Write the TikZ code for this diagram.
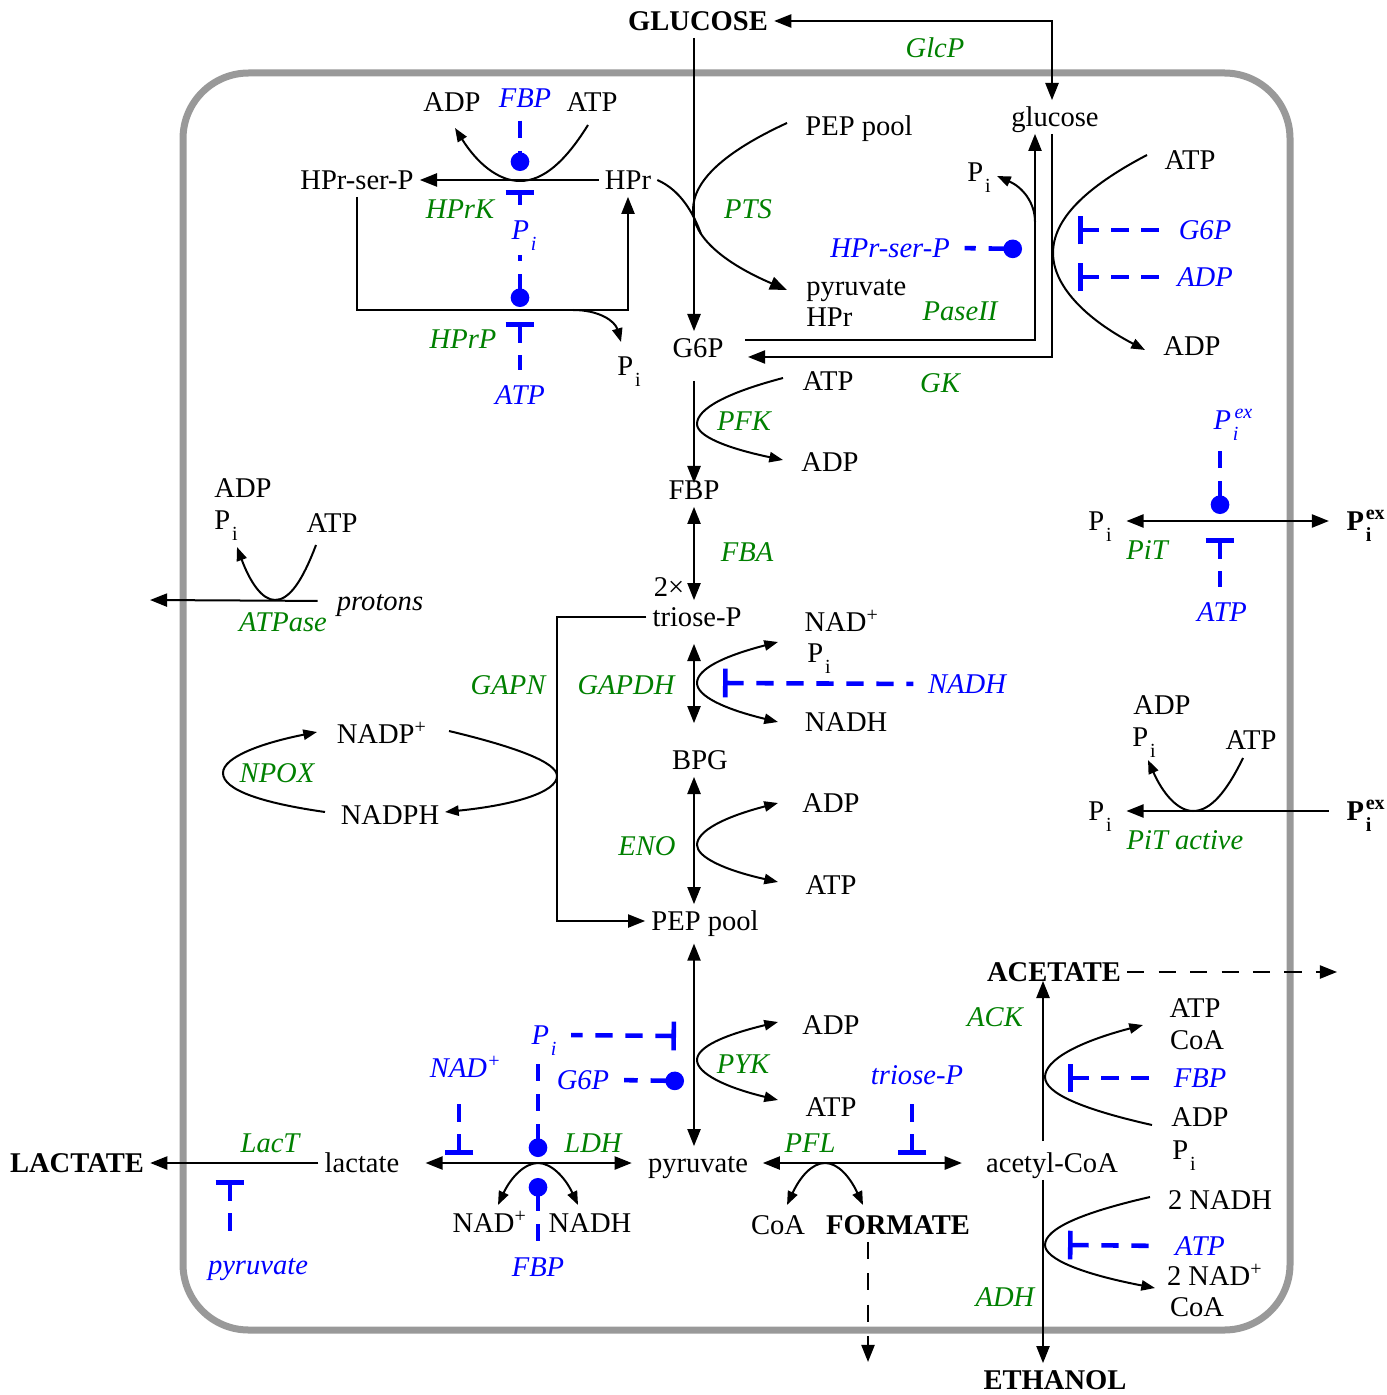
\documentclass[tikz,border=0pt]{standalone}
\usepackage{fontspec}
\setmainfont{Liberation Serif}
\usetikzlibrary{arrows.meta,calc}
\definecolor{egreen}{RGB}{0,128,0}
\definecolor{rblue}{RGB}{0,0,255}
\definecolor{cellgray}{RGB}{153,153,153}
\newcommand{\sbi}[1]{\kern0.6pt\raisebox{-4pt}{\fontsize{7}{8}\selectfont #1}}
\newcommand{\Psub}{P\sbi{i}}
\newcommand{\Pexb}{\textbf{P}\rlap{\kern0.6pt\raisebox{3.8pt}{\fontsize{7}{8}\selectfont\bfseries ex}}\sbi{\bfseries i}}
\newcommand{\Pexi}{P\rlap{\kern1.2pt\raisebox{3.8pt}{\fontsize{7}{8}\selectfont ex}}\sbi{i}}
\begin{document}
\begin{tikzpicture}[x=0.35pt,y=-0.35pt,
  every node/.style={inner sep=2pt, text height=0.7em, text depth=0.04em},
  ext/.style={font=\bfseries},
  enz/.style={text=egreen, font=\itshape},
  reg/.style={text=rblue, font=\itshape},
  ln/.style={line width=0.7pt},
  arr/.style={ln, -{Triangle[length=6pt,width=4.6pt]}},
  darr/.style={ln, {Triangle[length=6pt,width=4.6pt]}-{Triangle[length=6pt,width=4.6pt]}},
  carr/.style={ln, -{Triangle[length=4.8pt,width=3.6pt]}},
  cdarr/.style={ln, {Triangle[length=4.8pt,width=3.6pt]}-{Triangle[length=4.8pt,width=3.6pt]}},
  inh/.style={color=rblue, line width=1.6pt, dash pattern=on 6pt off 4.5pt, shorten >=3pt, {Bar[width=10pt]}-},
  actv/.style={color=rblue, line width=1.6pt, dash pattern=on 6pt off 4.5pt, shorten >=3pt, {Circle[length=6.5pt]}-},
  actr/.style={color=rblue, line width=1.6pt, dash pattern=on 6pt off 4.5pt, shorten <=2pt, -{Circle[length=6.5pt]}},
  dsh/.style={ln, dash pattern=on 6pt off 5pt, -{Triangle[length=6pt,width=4.6pt]}}
]
\fill[white] (0,0) rectangle (1387,1395);
\useasboundingbox (0,0) rectangle (1387,1395);
% cell
\draw[cellgray, line width=2.45pt, rounded corners=23pt] (183,73) rectangle (1290,1330);

% ---------- nodes ----------
\node[ext] (GLUCOSE) at (698,21) {GLUCOSE};
\node[enz] (GlcP) at (935,48) {GlcP};
\node (glucose) at (1055,117) {glucose};
\node (PEPt) at (859,126) {PEP pool};
\node (HPr) at (628,180) {HPr};
\node (HPrSP) at (357,180) {HPr-ser-P};
\node (ADPk) at (452,102) {ADP};
\node[reg] (FBPk) at (525,98) {FBP};
\node (ATPk) at (592,102) {ATP};
\node[enz] (HPrK) at (460,209) {HPrK};
\node[reg] (PiK) at (524,230) {\Psub};
\node[enz] (HPrP) at (463,339) {HPrP};
\node[reg] (ATPp) at (520,395) {ATP};
\node (PiP) at (629,366) {\Psub};
\node[enz] (PTS) at (748,209) {PTS};
\node (PiG) at (979,172) {\Psub};
\node[reg] (HPrSPb) at (890,248) {HPr-ser-P};
\node[anchor=west] (pyrt) at (800,286) {pyruvate};
\node[anchor=west] (HPr2) at (800,317) {HPr};
\node[enz] (PaseII) at (960,311) {PaseII};
\node (G6P) at (698,348) {G6P};
\node[enz] (GK) at (940,383) {GK};
\node (ATPg) at (1190,160) {ATP};
\node[reg] (G6Pg) at (1205,230) {G6P};
\node[reg] (ADPg) at (1205,277) {ADP};
\node (ADPg2) at (1192,346) {ADP};
\node (ATPf) at (828,381) {ATP};
\node[enz] (PFK) at (744,421) {PFK};
\node (ADPf) at (830,462) {ADP};
\node (FBP) at (694,490) {FBP};
\node[enz] (FBA) at (747,552) {FBA};
\node (two) at (669,587) {2×};
\node (triose) at (697,617) {triose-P};
% ATPase
\node (ADPa1) at (243,488) {ADP};
\node (PiA) at (226,520) {\Psub};
\node (ATPa1) at (332,523) {ATP};
\node[font=\itshape] (protons) at (380,601) {protons};
\node[enz] (ATPase) at (283,622) {ATPase};
% GAPDH / GAPN
\node (NADp) at (842,622) {NAD\textsuperscript{+}};
\node (PiD) at (819,653) {\Psub};
\node[enz] (GAPDH) at (626,685) {GAPDH};
\node[enz] (GAPN) at (508,685) {GAPN};
\node[reg] (NADHb) at (967,684) {NADH};
\node (NADHd) at (846,722) {NADH};
\node (NADPp) at (382,734) {NADP\textsuperscript{+}};
\node[enz] (NPOX) at (277,773) {NPOX};
\node (NADPH) at (390,815) {NADPH};
\node (BPG) at (700,760) {BPG};
\node (ADPe) at (831,803) {ADP};
\node[enz] (ENO) at (647,846) {ENO};
\node (ATPe) at (831,885) {ATP};
\node (PEP) at (705,921) {PEP pool};
% lower part
\node[ext] (ACETATE) at (1054,972) {ACETATE};
\node[enz] (ACK) at (995,1017) {ACK};
\node (ADPy) at (831,1025) {ADP};
\node[enz] (PYK) at (743,1064) {PYK};
\node (ATPy) at (831,1107) {ATP};
\node[reg] (Pib) at (544,1035) {\Psub};
\node[reg] (NADb) at (466,1068) {NAD\textsuperscript{+}};
\node[reg] (G6Pb) at (583,1080) {G6P};
\node[reg] (trib) at (917,1075) {triose-P};
\node (ATPc) at (1195,1008) {ATP};
\node (CoAc) at (1197,1040) {CoA};
\node[reg] (FBPa) at (1200,1078) {FBP};
\node (ADPc) at (1200,1117) {ADP};
\node (Pic) at (1184,1150) {\Psub};
\node[enz] (LacT) at (270,1143) {LacT};
\node[enz] (LDH) at (593,1143) {LDH};
\node[enz] (PFL) at (810,1143) {PFL};
\node[ext] (LACTATE) at (77,1163) {LACTATE};
\node (lactate) at (362,1163) {lactate};
\node (pyr) at (698,1163) {pyruvate};
\node (acCoA) at (1052,1163) {acetyl-CoA};
\node (NADH2) at (1220,1200) {2 NADH};
\node (NADl) at (490,1223) {NAD\textsuperscript{+}};
\node (NADHl) at (590,1223) {NADH};
\node (CoAf) at (778,1225) {CoA};
\node[ext] (FORMATE) at (898,1225) {FORMATE};
\node[reg] (ATPa) at (1200,1246) {ATP};
\node[reg] (pyrb) at (258,1265) {pyruvate};
\node[reg] (FBPl) at (538,1267) {FBP};
\node (NAD2) at (1215,1276) {2 NAD\textsuperscript{+}};
\node[enz] (ADH) at (1005,1297) {ADH};
\node (CoAh) at (1197,1307) {CoA};
\node[ext] (ETHANOL) at (1055,1380) {ETHANOL};
% phosphate transport
\node[reg] (Piexb) at (1226,420) {\Pexi};
\node (PiL1) at (1100,521) {\Psub};
\node (Piex1) at (1359,521) {\Pexb};
\node[enz] (PiT) at (1147,550) {PiT};
\node[reg] (ATPt) at (1222,612) {ATP};
\node (ADPt) at (1162,705) {ADP};
\node (PiT2) at (1144,737) {\Psub};
\node (ATPt2) at (1251,740) {ATP};
\node (PiL2) at (1100,811) {\Psub};
\node (Piex2) at (1359,811) {\Pexb};
\node[enz] (PiTa) at (1185,840) {PiT active};

% ---------- helper coordinates ----------
\coordinate (tx) at (694,0);
\coordinate (gc) at (1052,21);
\coordinate (k) at (520,0);
\coordinate (kd) at (520,171);
\coordinate (b) at (0,310);
\coordinate (p1) at (745,340);
\coordinate (p2) at (1035,340);
\coordinate (g1) at (1052,357);
\coordinate (g2) at (748,357);
\coordinate (n) at (557,0);
\coordinate (lx) at (538,0);
\coordinate (mx) at (459,0);
\coordinate (qx) at (230,0);
\coordinate (rx) at (912,0);
\coordinate (fx) at (868,0);
\coordinate (fend) at (868,1362);
\coordinate (ax) at (1043,0);
\coordinate (aend) at (1337,972);
\coordinate (sx) at (1220,0);
\coordinate (hend) at (150,600);

% ---------- top ----------
\draw[darr] (GLUCOSE.east) -- (gc) -- (gc |- glucose.north);
\draw[arr] (GLUCOSE.south -| tx) -- (G6P.north -| tx);
% PTS
\draw[arr] (787,123) .. controls (724,152) and (693,181) .. (693,210) .. controls (693,237) and (724,263) .. (787,290);
\draw[ln] (HPr.east) .. controls (680,190) and (693,212) .. (701,234);
% PaseII and GK
\draw[arr] (p1) -- (p2) -- (p2 |- glucose.south);
\draw[arr] (g1 |- glucose.south) -- (g1) -- (g2);
\draw[carr] (1035,222) .. controls (1035,202) and (1022,187) .. (997,176);
\draw[actv] (1022,249) -- (HPrSPb.east);
\draw[carr] (1147,155) .. controls (1084,188) and (1053,220) .. (1053,253) .. controls (1053,285) and (1084,318) .. (1145,350);
\draw[inh] (1078,230) -- (G6Pg.west);
\draw[inh] (1078,277) -- (ADPg.west);
% HPrK / HPrP
\draw[arr] (HPr.west) -- (HPrSP.east);
\draw[carr] (588,125) .. controls (565,162) and (543,181) .. (520,181) .. controls (498,181) and (477,163) .. (455,128);
\draw[actr] (k |- FBPk.south) -- (kd);
\draw[inh] (520,190) -- (k |- PiK.north);
\draw[actv] (520,307) -- (k |- PiK.south);
\draw[inh] (520,322) -- (k |- ATPp.north);
\draw[arr] (HPrSP.south) -- (HPrSP.south |- b) -- (HPr.south |- b) -- (HPr.south);
\draw[carr] (573,310) .. controls (599,310) and (615,321) .. (621,342);

% ---------- glycolysis ----------
\draw[arr, shorten <=5.6pt, shorten >=-3.5pt] (G6P.south -| tx) -- (FBP.north -| tx);
\draw[carr] (783,378) .. controls (726,393) and (697,409) .. (697,424) .. controls (697,436) and (726,448) .. (783,460);
\draw[darr] (FBP.south -| tx) -- (triose.north -| tx);
\draw[darr, shorten <=3.5pt, shorten >=7pt] (triose.south -| tx) -- (BPG.north -| tx);
\draw[cdarr] (778,642) .. controls (724,656) and (697,669) .. (697,683) .. controls (697,696) and (724,709) .. (778,722);
\draw[inh] (723,683) -- (NADHb.west);
\draw[arr] (triose.west) -- (n |- triose.west) -- (n |- PEP.west) -- (PEP.west);
\draw[carr] (449,731) .. controls (520,748) and (557,763) .. (557,776) .. controls (557,792) and (515,805) .. (445,812);
\draw[carr] (325,812) .. controls (262,803) and (223,790) .. (223,773) .. controls (223,757) and (262,743) .. (317,732);
\draw[darr] (BPG.south -| tx) -- (PEP.north -| tx);
\draw[cdarr] (778,803) .. controls (724,817) and (697,831) .. (697,845) .. controls (697,857) and (724,870) .. (778,882);
\draw[darr, shorten <=2pt] (PEP.south -| tx) -- (pyr.north -| tx);
\draw[cdarr] (778,1022) .. controls (724,1035) and (697,1047) .. (697,1060) .. controls (697,1073) and (724,1087) .. (778,1100);
\draw[inh] (676,1036) -- (Pib.east);
\draw[actv] (684,1081) -- (G6Pb.east);

% ATPase
\draw[arr, shorten <=4.5pt] (protons.west) -- (hend);
\draw[carr] (316,545) .. controls (302,582) and (289,600) .. (275,600) .. controls (262,600) and (250,582) .. (237,547);

% ---------- LDH / lactate ----------
\draw[darr, shorten <=7pt, shorten >=3.5pt] (lactate.east) -- (pyr.west);
\draw[cdarr] (498,1205) .. controls (511,1177) and (525,1163) .. (538,1163) .. controls (551,1163) and (565,1177) .. (578,1205);
\draw[actv] (538,1157) -- (lx |- Pib.south);
\draw[actv] (538,1178) -- (lx |- FBPl.north);
\draw[inh] (459,1155) -- (mx |- NADb.south);
\draw[arr] (lactate.west) -- (LACTATE.east);
\draw[inh] (230,1180) -- (qx |- pyrb.north);

% ---------- PFL / acetate / ethanol ----------
\draw[darr, shorten <=3pt, shorten >=6.3pt] (pyr.east) -- (acCoA.west);
\draw[cdarr] (787,1205) .. controls (800,1177) and (812,1163) .. (825,1163) .. controls (838,1163) and (850,1177) .. (863,1205);
\draw[inh] (912,1155) -- (rx |- trib.south);
\draw[dsh] (FORMATE.south -| fx) -- (fend);
\draw[arr, shorten <=1.8pt, shorten >=-2.8pt] (acCoA.north -| ax) -- (ACETATE.south -| ax);
\draw[carr] (1152,1125) .. controls (1081,1109) and (1045,1093) .. (1045,1077) .. controls (1045,1060) and (1078,1042) .. (1143,1025);
\draw[inh] (1068,1078) -- (FBPa.west);
\draw[dsh] (ACETATE.east) -- (aend);
\draw[arr] (acCoA.south -| ax) -- (ETHANOL.north -| ax);
\draw[carr] (1150,1197) .. controls (1080,1213) and (1045,1229) .. (1045,1245) .. controls (1045,1259) and (1082,1274) .. (1155,1288);
\draw[inh] (1068,1245) -- (ATPa.west);

% ---------- phosphate transport ----------
\draw[darr, shorten <=3pt, shorten >=4pt] (PiL1.east) -- (Piex1.west);
\draw[actv, shorten >=5pt] (1220,514) -- (sx |- Piexb.south);
\draw[inh] (1220,538) -- (sx |- ATPt.north);
\draw[arr, shorten <=4pt, shorten >=3pt] (Piex2.west) -- (PiL2.east);
\draw[carr] (1243,758) .. controls (1226,793) and (1210,811) .. (1193,811) .. controls (1178,811) and (1163,794) .. (1148,760);
\end{tikzpicture}
\end{document}
